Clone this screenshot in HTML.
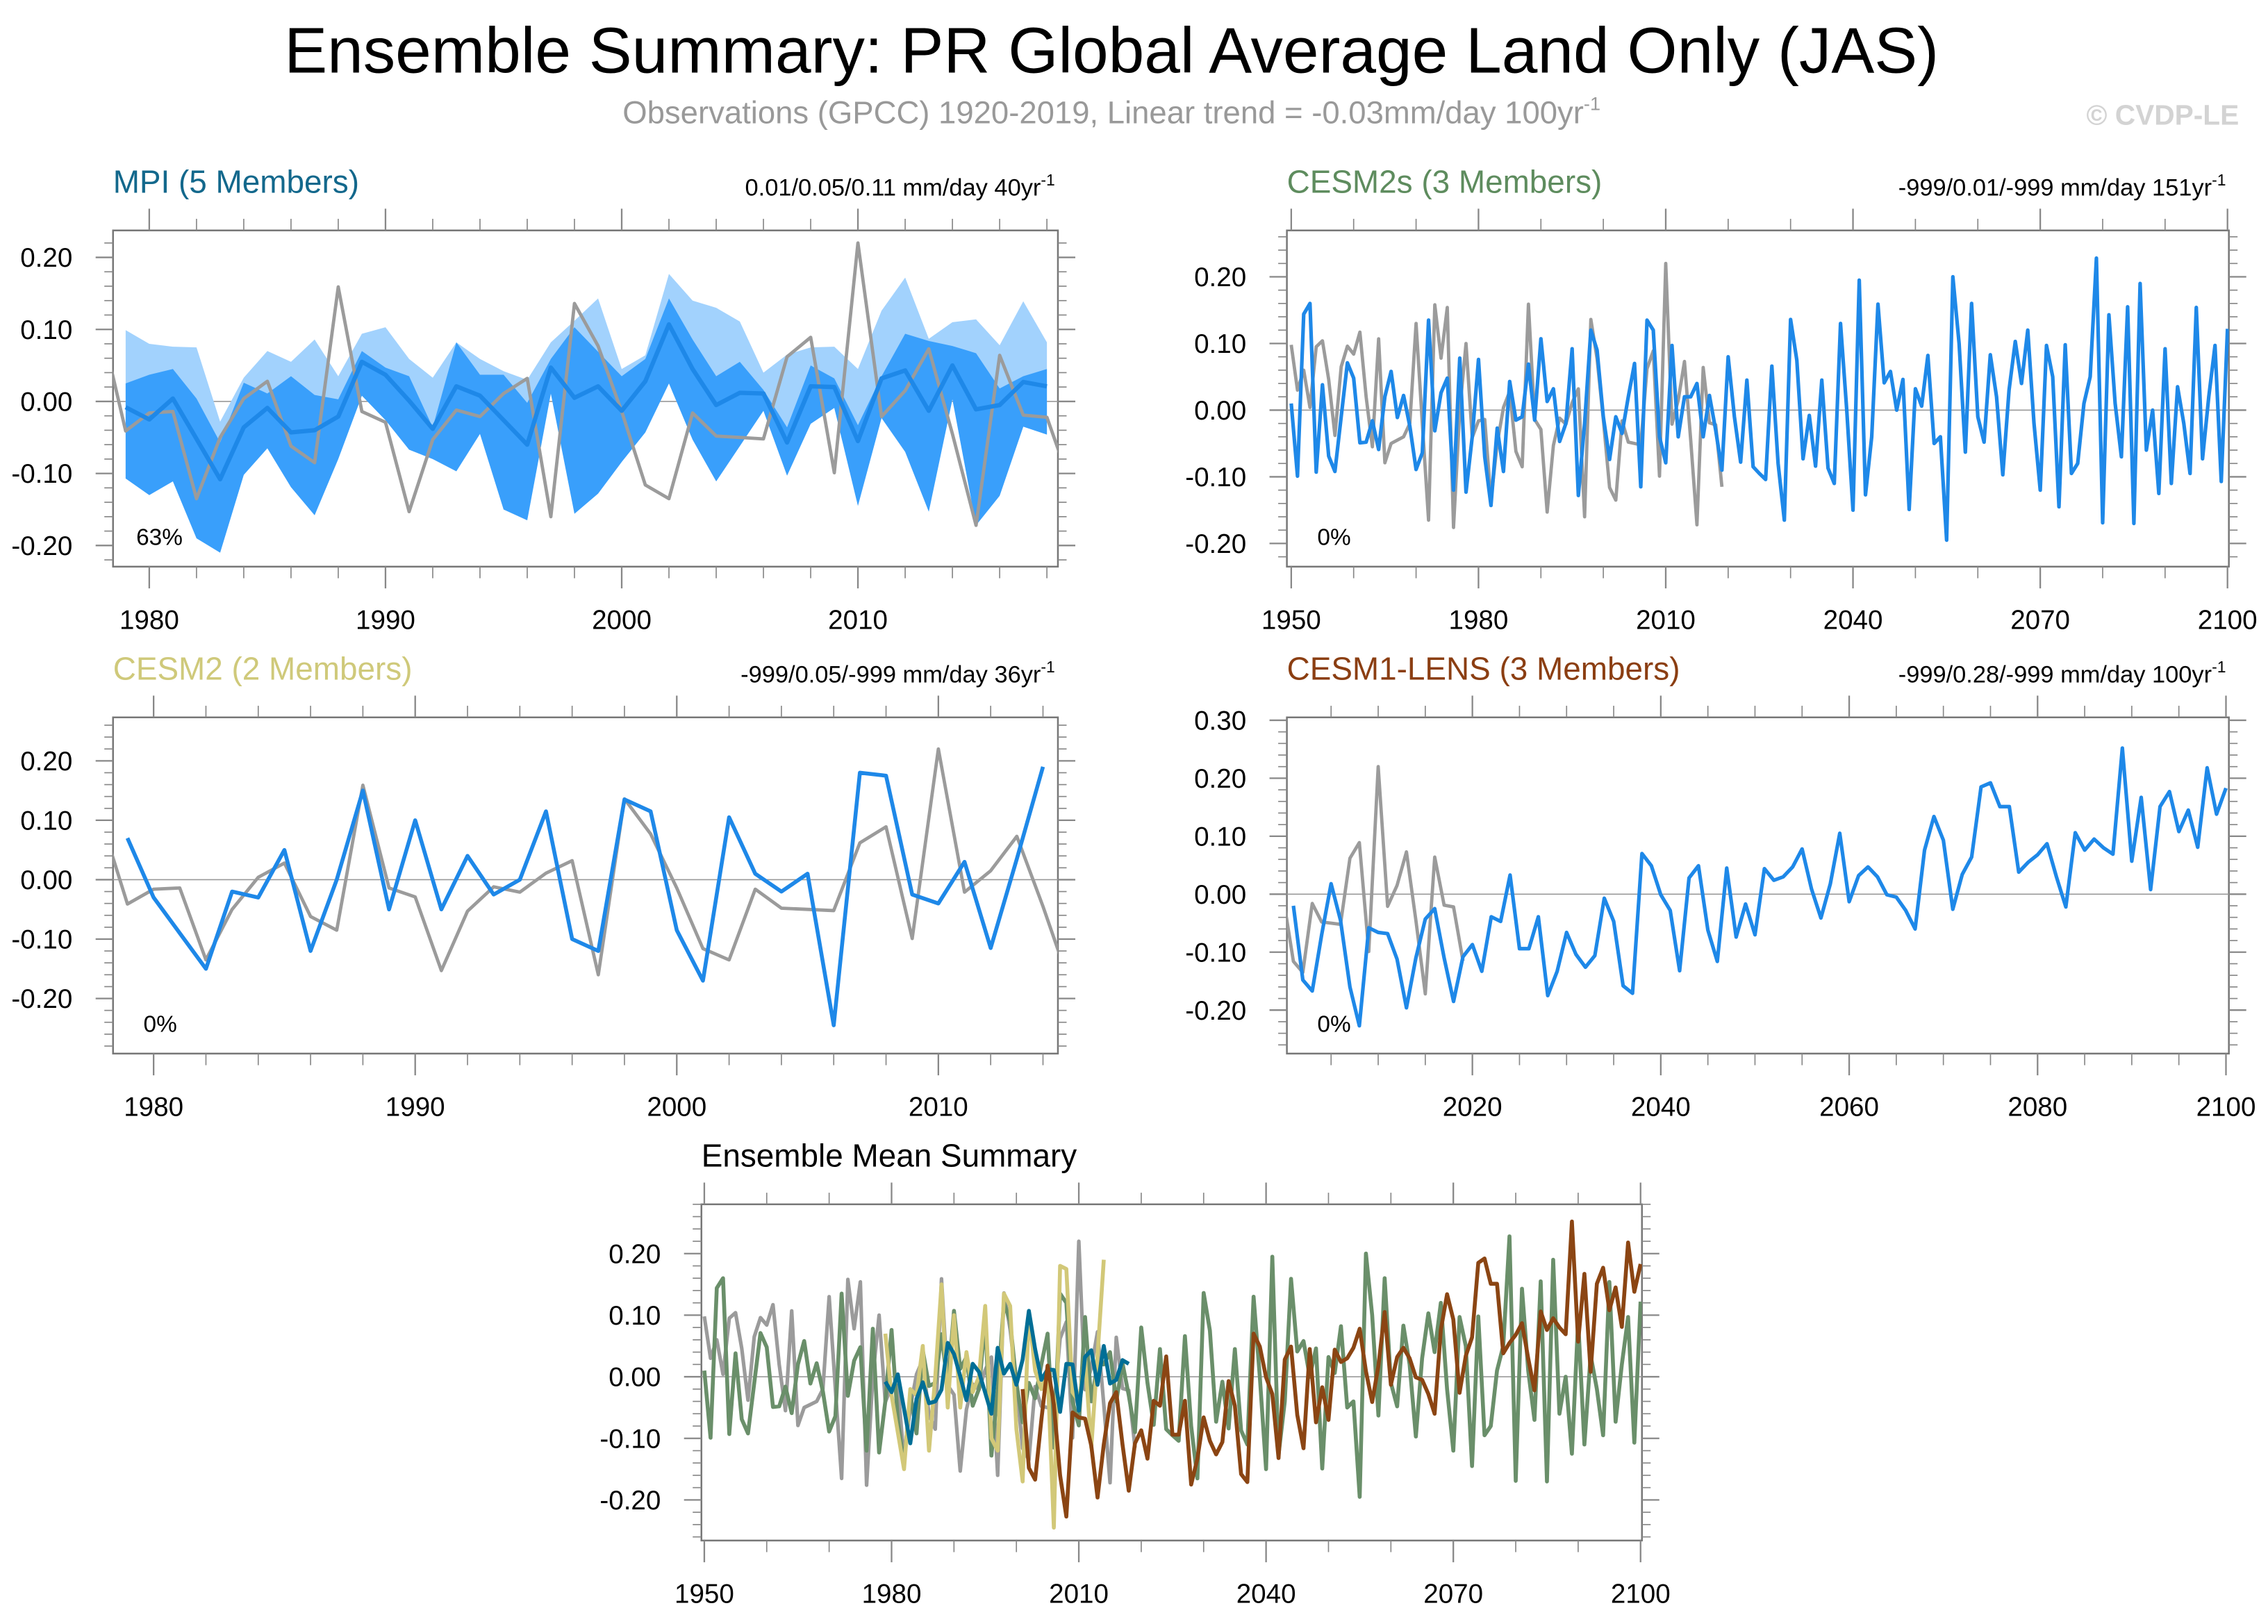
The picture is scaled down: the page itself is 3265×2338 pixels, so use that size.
<!DOCTYPE html>
<html><head><meta charset="utf-8"><style>
html,body{margin:0;padding:0;background:#fff;}
svg{display:block;font-family:"Liberation Sans",sans-serif;}
</style></head><body>
<svg id="chart" xmlns="http://www.w3.org/2000/svg" width="3265" height="2338" viewBox="0 0 1565 1120.6" preserveAspectRatio="none">
<rect x="0" y="0" width="1565" height="1121" fill="#fff"/>
<text x="767" y="50" font-size="44.5" text-anchor="middle" fill="#000">Ensemble Summary: PR Global Average Land Only (JAS)</text>
<text x="767" y="85" font-size="21.8" text-anchor="middle" fill="#999">Observations (GPCC) 1920-2019, Linear trend = -0.03mm/day 100yr<tspan font-size="13" dy="-9">-1</tspan></text>
<text x="1545" y="86" font-size="19.5" font-weight="bold" text-anchor="end" fill="#d3d3d3">© CVDP-LE</text>
</svg>
<script>
// ---- data ----
const obsStart = 1950;
const obsValues = [0.098,0.03,0.06,0.004,0.095,0.104,0.046,-0.038,0.065,0.096,
0.084,0.117,0.02,-0.055,0.107,-0.079,-0.05,-0.045,-0.04,-0.02,
0.13,-0.02,-0.165,0.158,0.078,0.154,-0.176,0.0,0.10,-0.041,
-0.016,-0.014,-0.135,-0.05,0.004,0.028,-0.062,-0.085,0.159,-0.014,
-0.029,-0.153,-0.053,-0.012,-0.021,0.011,0.032,-0.16,0.136,0.077,
-0.014,-0.116,-0.135,-0.016,-0.048,-0.05,-0.052,0.062,0.089,-0.099,
0.22,-0.021,0.015,0.073,-0.045,-0.172,0.064,-0.019,-0.022,-0.115];

const mpiStart = 1979;
const mpiMean = [-0.008,-0.025,0.004,-0.052,-0.108,-0.036,-0.009,-0.043,-0.04,-0.021,
0.055,0.037,0.001,-0.038,0.021,0.008,-0.026,-0.06,0.047,0.005,
0.021,-0.013,0.028,0.107,0.045,-0.005,0.012,0.011,-0.057,0.021,
0.02,-0.055,0.032,0.043,-0.013,0.05,-0.011,-0.005,0.027,0.021];
const mpiMax = [0.099,0.08,0.076,0.075,-0.028,0.033,0.07,0.055,0.086,0.035,
0.094,0.103,0.059,0.033,0.082,0.059,0.042,0.03,0.082,0.112,
0.143,0.045,0.064,0.177,0.14,0.13,0.111,0.04,0.065,0.075,
0.076,0.045,0.126,0.172,0.087,0.11,0.114,0.078,0.139,0.082];
const mpiUpper = [0.025,0.037,0.045,0.004,-0.057,0.026,0.011,0.035,0.009,0.003,
0.07,0.047,0.035,-0.036,0.082,0.037,0.037,-0.002,0.059,0.103,
0.069,0.035,0.059,0.143,0.086,0.035,0.055,0.016,-0.036,0.05,
0.032,-0.033,0.035,0.094,0.084,0.077,0.067,0.018,0.035,0.045];
const mpiMin = [-0.107,-0.13,-0.111,-0.19,-0.21,-0.102,-0.065,-0.119,-0.158,-0.08,
0.008,-0.026,-0.067,-0.08,-0.097,-0.045,-0.15,-0.165,0.011,-0.156,
-0.128,-0.084,-0.043,0.025,-0.053,-0.111,-0.062,-0.013,-0.103,-0.031,
-0.009,-0.145,-0.023,-0.07,-0.153,0.003,-0.172,-0.131,-0.035,-0.046];

const cesm2sStart = 1950;
const cesm2sValues = [0.01,-0.099,0.144,0.16,-0.093,0.038,-0.069,-0.092,-0.01,0.071,
0.048,-0.049,-0.048,-0.016,-0.059,0.02,0.058,-0.011,0.022,-0.024,
-0.089,-0.064,0.135,-0.031,0.026,0.048,-0.12,0.078,-0.123,-0.04,
0.076,-0.07,-0.143,-0.027,-0.092,0.043,-0.015,-0.01,0.069,-0.015,
0.107,0.013,0.032,-0.047,-0.02,0.092,-0.128,-0.02,0.12,0.09,
-0.01,-0.074,-0.01,-0.035,0.02,0.07,-0.115,0.135,0.12,-0.04,
-0.079,0.097,-0.04,0.02,0.02,0.04,-0.04,0.022,-0.03,-0.09,
0.08,-0.01,-0.078,0.045,-0.085,-0.095,-0.104,0.066,-0.08,-0.165,
0.136,0.075,-0.073,-0.008,-0.084,0.045,-0.087,-0.11,0.13,0.0,
-0.15,0.195,-0.127,-0.04,0.159,0.041,0.058,0.0,0.046,-0.149,
0.032,0.006,0.082,-0.05,-0.04,-0.195,0.2,0.1,-0.063,0.16,
-0.01,-0.048,0.083,0.02,-0.097,0.03,0.103,0.04,0.12,-0.02,
-0.12,0.097,0.05,-0.145,0.098,-0.095,-0.08,0.01,0.05,0.228,
-0.169,0.143,0.01,-0.07,0.155,-0.17,0.19,-0.06,0.0,-0.125,
0.092,-0.11,0.035,-0.02,-0.095,0.154,-0.073,0.02,0.097,-0.107,
0.122];

const cesm2Start = 1979;
const cesm2Values = [0.07,-0.03,-0.09,-0.15,-0.02,-0.03,0.05,-0.12,0.0,0.15,
-0.05,0.10,-0.05,0.04,-0.025,0.0,0.115,-0.10,-0.12,0.135,
0.115,-0.085,-0.17,0.105,0.01,-0.02,0.01,-0.245,0.18,0.175,
-0.025,-0.04,0.03,-0.115,0.035,0.19];

const lensStart = 2001;
const lensValues = [-0.02,-0.148,-0.167,-0.07,0.018,-0.045,-0.16,-0.227,-0.058,-0.066,
-0.068,-0.112,-0.196,-0.11,-0.043,-0.025,-0.11,-0.185,-0.108,-0.087,
-0.133,-0.039,-0.047,0.033,-0.094,-0.094,-0.039,-0.175,-0.133,-0.066,
-0.104,-0.126,-0.106,-0.007,-0.047,-0.158,-0.171,0.07,0.049,-0.001,
-0.028,-0.132,0.028,0.049,-0.062,-0.116,0.045,-0.074,-0.017,-0.07,
0.044,0.024,0.03,0.047,0.078,0.009,-0.041,0.018,0.105,-0.013,
0.032,0.047,0.03,-0.001,-0.005,-0.028,-0.06,0.076,0.134,0.093,
-0.026,0.034,0.064,0.185,0.192,0.151,0.151,0.038,0.055,0.068,
0.087,0.03,-0.022,0.106,0.076,0.095,0.08,0.069,0.252,0.057,
0.167,0.008,0.151,0.177,0.108,0.145,0.081,0.218,0.138,0.183];

const yTicks1 = ["0.20","0.10","0.00","-0.10","-0.20"];
const yTicksLens = ["0.30","0.20","0.10","0.00","-0.10","-0.20"];
const xTicksMpi = [1980,1990,2000,2010];
const xTicksLong = [1950,1980,2010,2040,2070,2100];
const xTicksLens = [2020,2040,2060,2080,2100];

// ---- drawing ----
const NS = "http://www.w3.org/2000/svg";
const svg = document.getElementById("chart");
function mk(tag, attrs, parent){
  const e = document.createElementNS(NS, tag);
  for (const k in attrs) e.setAttribute(k, attrs[k]);
  (parent || svg).appendChild(e);
  return e;
}
let clipId = 0;

function panel(cfg){
  const g = mk("g", {});
  
  
  const X = y => cfg.xa + (y - cfg.ya) * cfg.xs;
  const Y = v => cfg.y0v - v * cfg.ys;
  cfg.X = X; cfg.Y = Y;
  const cid = "clip" + (clipId++);
  const cp = mk("clipPath", {id: cid}, g);
  mk("rect", {x: cfg.x0, y: cfg.y0, width: cfg.x1 - cfg.x0, height: cfg.y1 - cfg.y0}, cp);
  const box = mk("rect", {x: cfg.x0, y: cfg.y0, width: cfg.x1 - cfg.x0, height: cfg.y1 - cfg.y0, fill: "none", stroke: "#777", "stroke-width": 1.2}, g);
  
  
  const zl = mk("line", {x1: cfg.x0, x2: cfg.x1, y1: Y(0), y2: Y(0), stroke: "#999", "stroke-width": 0.8}, g);
  
  
  const vMin = (Y(0) - cfg.y1) / cfg.ys, vMax = (Y(0) - cfg.y0) / cfg.ys;
  for (let k = Math.ceil(-vMax * 50 - 1e-6); k <= Math.floor(-vMin * 50 + 1e-6); k++){
    const v = -k / 50; const yy = Y(v);
    if (yy < cfg.y0 - 0.5 || yy > cfg.y1 + 0.5) continue;
    const major = Math.abs(Math.round(v * 10) - v * 10) < 1e-6;
    const L = major ? 12 : 6;
    mk("line", {x1: cfg.x0 - L, x2: cfg.x0, y1: yy, y2: yy, stroke: "#888", "stroke-width": major ? 1.1 : 0.8}, g);
    mk("line", {x1: cfg.x1, x2: cfg.x1 + L, y1: yy, y2: yy, stroke: "#888", "stroke-width": major ? 1.1 : 0.8}, g);
  }
  cfg.yLabels.forEach(lbl => {
    const t = mk("text", {x: cfg.x0 - 28, y: Y(parseFloat(lbl)) + 6.5, "font-size": 18.5, "text-anchor": "end", fill: "#000"}, g);
    t.textContent = lbl;
    
    
  });
  for (let yr = cfg.minorStart; yr <= cfg.minorEnd; yr += cfg.minorStep){
    const xx = X(yr);
    if (xx < cfg.x0 - 0.5 || xx > cfg.x1 + 0.5) continue;
    const major = cfg.xLabels.indexOf(yr) >= 0;
    const L = major ? 15 : 8;
    mk("line", {x1: xx, x2: xx, y1: cfg.y0 - L, y2: cfg.y0, stroke: "#888", "stroke-width": major ? 1.1 : 0.8}, g);
    mk("line", {x1: xx, x2: xx, y1: cfg.y1, y2: cfg.y1 + L, stroke: "#888", "stroke-width": major ? 1.1 : 0.8}, g);
  }
  cfg.xLabels.forEach(yr => {
    const t = mk("text", {x: X(yr), y: cfg.y1 + 43, "font-size": 18.5, "text-anchor": "middle", fill: "#000"}, g);
    t.textContent = yr;
    
    
  });
  if (cfg.title){
    const t = mk("text", {x: cfg.x0, y: cfg.y0 - 26, "font-size": cfg.titleSize || 22, fill: cfg.titleColor}, g);
    t.textContent = cfg.title;
    
    
  }
  if (cfg.trend){
    const t = mk("text", {x: cfg.x1 - 2, y: cfg.y0 - 24, "font-size": 16.5, "text-anchor": "end", fill: "#000"}, g);
    t.textContent = cfg.trend;
    const s = mk("tspan", {"font-size": 11, dy: -7}, t);
    s.textContent = "-1";
    
    
  }
  if (cfg.pct){
    const t = mk("text", {x: cfg.x0 + cfg.pctDx, y: cfg.y1 - 15, "font-size": 16, fill: "#000"}, g);
    t.textContent = cfg.pct;
    
    
  }
  const data = mk("g", {"clip-path": "url(#" + cid + ")"}, g);
  cfg.data = data;
  return cfg;
}
function line(cfg, start, vals, color, w, name){
  const d = vals.map((v, i) => (i ? "L" : "M") + cfg.X(start + i).toFixed(2) + "," + cfg.Y(v).toFixed(2)).join("");
  const p = mk("path", {d: d, fill: "none", stroke: color, "stroke-width": w, "stroke-linejoin": "round"}, cfg.data);
  
  
  return p;
}
function band(cfg, start, hi, lo, color, name){
  let d = hi.map((v, i) => (i ? "L" : "M") + cfg.X(start + i).toFixed(2) + "," + cfg.Y(v).toFixed(2)).join("");
  for (let i = lo.length - 1; i >= 0; i--) d += "L" + cfg.X(start + i).toFixed(2) + "," + cfg.Y(lo[i]).toFixed(2);
  const p = mk("path", {d: d + "Z", fill: color, stroke: "none"}, cfg.data);
  
  
}

const GRAY = "#9b9b9b", BLUE = "#1e88e8";

const p1 = panel({name: "mpi-panel", x0: 78, x1: 730, y0: 159, y1: 391, xa: 103, ya: 1980, xs: 16.3, y0v: 277, ys: 497,
  yLabels: yTicks1, xLabels: xTicksMpi, minorStart: 1970, minorEnd: 2030, minorStep: 2,
  title: "MPI (5 Members)", titleColor: "#13688c", trend: "0.01/0.05/0.11 mm/day 40yr", pct: "63%", pctDx: 16});
band(p1, mpiStart, mpiMax, mpiMin, "#a2d2fd", "mpi-range-band");
band(p1, mpiStart, mpiUpper, mpiMin, "#399ffb", "mpi-spread-band");
line(p1, obsStart, obsValues, GRAY, 2.3, "obs-line");
line(p1, mpiStart, mpiMean, BLUE, 3, "mpi-mean-line");

const p2 = panel({name: "cesm2s-panel", x0: 888, x1: 1538, y0: 159, y1: 391, xa: 891, ya: 1950, xs: 4.307, y0v: 283, ys: 460,
  yLabels: yTicks1, xLabels: xTicksLong, minorStart: 1950, minorEnd: 2100, minorStep: 10,
  title: "CESM2s (3 Members)", titleColor: "#5e8c5e", trend: "-999/0.01/-999 mm/day 151yr", pct: "0%", pctDx: 21});
line(p2, obsStart, obsValues, GRAY, 2.3, "obs-line");
line(p2, cesm2sStart, cesm2sValues, BLUE, 2.5, "cesm2s-mean-line");

const p3 = panel({name: "cesm2-panel", x0: 78, x1: 730, y0: 495, y1: 727, xa: 106, ya: 1980, xs: 18.05, y0v: 607, ys: 410,
  yLabels: yTicks1, xLabels: xTicksMpi, minorStart: 1970, minorEnd: 2030, minorStep: 2,
  title: "CESM2 (2 Members)", titleColor: "#cfc97a", trend: "-999/0.05/-999 mm/day 36yr", pct: "0%", pctDx: 21});
line(p3, obsStart, obsValues, GRAY, 2.3, "obs-line");
line(p3, cesm2Start, cesm2Values, BLUE, 2.7, "cesm2-mean-line");

const p4 = panel({name: "cesm1-lens-panel", x0: 888, x1: 1538, y0: 495, y1: 727, xa: 1016, ya: 2020, xs: 6.5, y0v: 617, ys: 400,
  yLabels: yTicksLens, xLabels: xTicksLens, minorStart: 2000, minorEnd: 2100, minorStep: 5,
  title: "CESM1-LENS (3 Members)", titleColor: "#8b3e12", trend: "-999/0.28/-999 mm/day 100yr", pct: "0%", pctDx: 21});
line(p4, obsStart, obsValues, GRAY, 2.3, "obs-line");
line(p4, lensStart, lensValues, BLUE, 2.5, "cesm1-lens-mean-line");

const p5 = panel({name: "ensemble-mean-summary-panel", x0: 484, x1: 1133, y0: 831, y1: 1063, xa: 486, ya: 1950, xs: 4.307, y0v: 950, ys: 425,
  yLabels: yTicks1, xLabels: xTicksLong, minorStart: 1950, minorEnd: 2100, minorStep: 10,
  title: "Ensemble Mean Summary", titleColor: "#000", titleSize: 22});
line(p5, obsStart, obsValues, GRAY, 2.5, "obs-line");
line(p5, cesm2sStart, cesm2sValues, "#6a8f6a", 2.7, "cesm2s-line");
line(p5, cesm2Start, cesm2Values, "#d2c878", 2.7, "cesm2-line");
line(p5, mpiStart, mpiMean, "#006e96", 2.7, "mpi-line");
line(p5, lensStart, lensValues, "#8b4513", 2.7, "cesm1-lens-line");
</script>
</body></html>
